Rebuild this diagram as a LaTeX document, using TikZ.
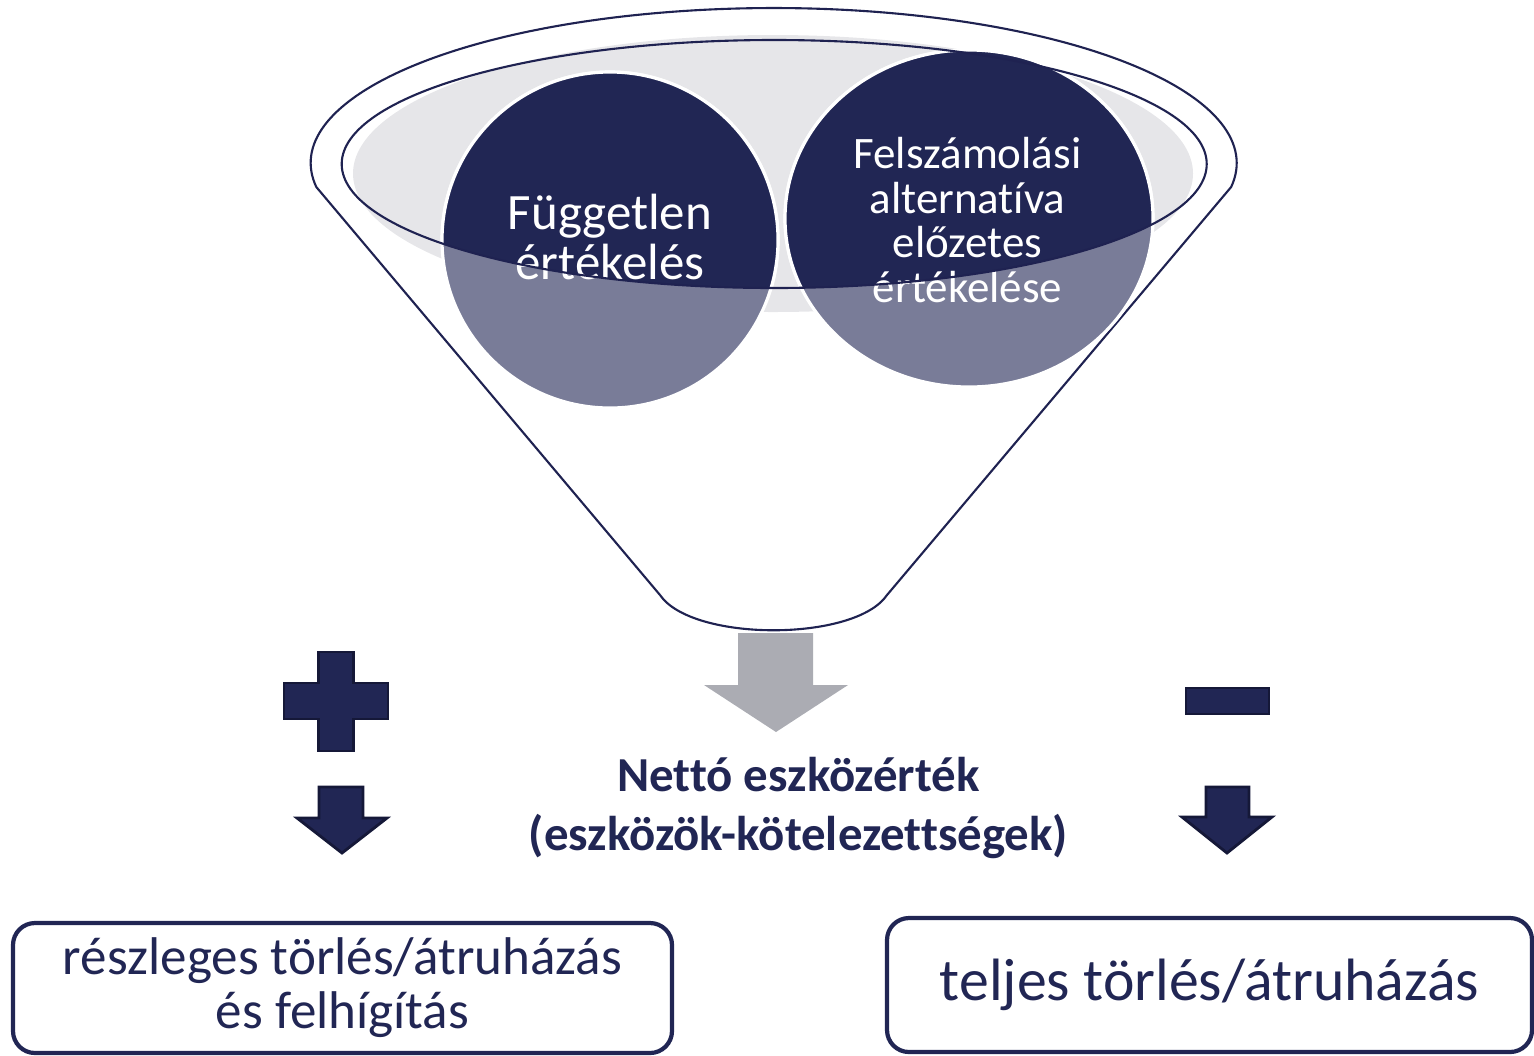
\documentclass[tikz,border=0pt]{standalone}
\usepackage{fontspec}
\setmainfont{Carlito}[Ligatures=NoCommon]
\usetikzlibrary{positioning}
\definecolor{navy}{HTML}{212654}
\definecolor{navyline}{HTML}{1F2251}
\definecolor{navyedge}{HTML}{151838}
\definecolor{navylight}{HTML}{797C98}
\definecolor{rimgray}{HTML}{E6E6E9}
\definecolor{arrowgray}{HTML}{ABACB3}

\begin{document}
\begin{tikzpicture}
		[rim/.style={draw=navyline, line width=0.6pt},
		disc/.style={draw=white, line width=0.9pt},
		sign/.style={fill=navy, draw=navyedge, line width=0.8pt},
		outcome/.style={draw=navy, line width=1.2pt, rounded corners=0.22cm, text=navy, align=center}]
		\useasboundingbox (0,0) rectangle (15.34,10.55);
		\coordinate (rl) at (3.163,8.68);
		\coordinate (rr) at (12.311,8.68);
		\coordinate (bl) at (6.60,4.60);
		\coordinate (br) at (8.87,4.60);
		\coordinate (fc) at (6.10,8.15);
		\coordinate (ec) at (9.69,8.365);

		% funnel
		\draw[rim] (rl) arc[start angle=188.9, end angle=-8.9, x radius=4.63, y radius=1.55] -- (br) .. controls (8.55,4.13) and (6.92,4.13) .. (bl) -- cycle;
		\fill[rimgray] (7.73,8.815) ellipse[x radius=4.20, y radius=1.385];

		% discs
		\filldraw[fill=navylight, disc] (fc) circle[radius=1.68];
		\filldraw[fill=navylight, disc] (ec) ellipse[x radius=1.84, y radius=1.685];
		\begin{scope}
			\clip (3.417,8.91) arc[start angle=180, end angle=360, x radius=4.325, y radius=1.24] -- (12.067,10.55) -- (3.417,10.55) -- cycle;
			\filldraw[fill=navy, disc] (fc) circle[radius=1.68];
			\filldraw[fill=navy, disc] (ec) ellipse[x radius=1.84, y radius=1.685];
		\end{scope}
		\node[text=white, align=center, font=\fontsize{14.5}{14.2}\selectfont] (fugg) at (6.10,8.18) {Független\\értékelés};
		\node[text=white, align=center, font=\fontsize{12.8}{12.7}\selectfont] (felsz) at (9.675,8.35) {Felszámolási\\alternatíva\\előzetes\\értékelése};
		\draw[rim] (7.742,8.91) ellipse[x radius=4.325, y radius=1.24];

		% output arrow
		\fill[arrowgray] (7.38,4.22) -- (8.13,4.22) -- (8.13,3.70) -- (8.48,3.70) -- (7.76,3.23) -- (7.04,3.70) -- (7.38,3.70) -- cycle;
		\node[text=navy, align=center, font=\bfseries\fontsize{13.9}{16.8}\selectfont] (netto) at (7.985,2.47) {Nettó eszközérték\\(eszközök-kötelezettségek)};

		% plus and minus
		\filldraw[sign] (3.185,4.03) -- (3.535,4.03) -- (3.535,3.72) -- (3.88,3.72) -- (3.88,3.36) -- (3.535,3.36) -- (3.535,3.04) -- (3.185,3.04) -- (3.185,3.36) -- (2.84,3.36) -- (2.84,3.72) -- (3.185,3.72) -- cycle;
		\filldraw[sign] (3.19,2.68) -- (3.63,2.68) -- (3.63,2.37) -- (3.87,2.37) -- (3.42,2.02) -- (2.97,2.37) -- (3.19,2.37) -- cycle;
		\filldraw[sign] (11.86,3.67) rectangle (12.69,3.41);
		\filldraw[sign] (12.06,2.68) -- (12.49,2.68) -- (12.49,2.38) -- (12.72,2.38) -- (12.27,2.02) -- (11.82,2.38) -- (12.06,2.38) -- cycle;

		% outcomes
		\node[outcome, minimum width=6.59cm, minimum height=1.30cm, font=\fontsize{15.1}{15.4}\selectfont] (partial) at (3.425,0.67) {részleges törlés/átruházás\\és felhígítás};
		\node[outcome, minimum width=6.45cm, minimum height=1.34cm, font=\fontsize{17}{20}\selectfont] (full) at (12.095,0.70) {teljes törlés/átruházás};
	\end{tikzpicture}
\end{document}
